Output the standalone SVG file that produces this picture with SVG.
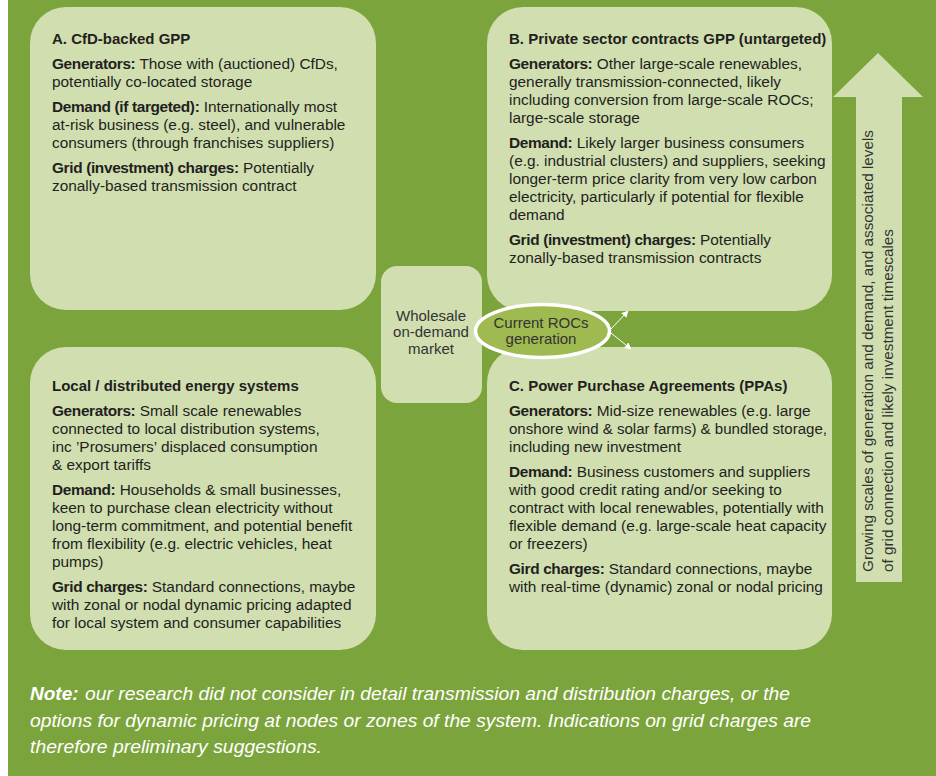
<svg xmlns="http://www.w3.org/2000/svg" width="936" height="776" viewBox="0 0 936 776">
<defs>
<style>
.bg{fill:#7ca43c}
.box{fill:#d1deb0}
.t{font-family:"Liberation Sans",Arial,sans-serif;font-size:15.4px;fill:#231f20}
.h{font-family:"Liberation Sans",Arial,sans-serif;font-size:15px;font-weight:bold;fill:#231f20}
.b{font-weight:bold;letter-spacing:-0.35px}
.c{font-family:"Liberation Sans",Arial,sans-serif;font-size:15px;fill:#333;text-anchor:middle}
.v{font-family:"Liberation Sans",Arial,sans-serif;font-size:15px;fill:#333}
.note{font-family:"Liberation Sans",Arial,sans-serif;font-size:19px;font-style:italic;fill:#ffffff}
.conn{stroke:#ffffff;stroke-width:1;fill:none}
</style>
<marker id="ah" viewBox="0 0 10 10" refX="9" refY="5" markerWidth="7" markerHeight="7" orient="auto" markerUnits="userSpaceOnUse">
<path d="M0,0 L10,5 L0,10 z" fill="#ffffff"/>
</marker>
</defs>
<rect x="0" y="0" width="936" height="776" fill="#ffffff"/>
<rect class="bg" x="8" y="0" width="928" height="776"/>

<g id="arrow-scale">
<polygon points="878,53 923,97 902,97 902,582 856,582 856,97 833,97" fill="#d1deb0"/>
<text class="v" transform="translate(873,572) rotate(-90)" textLength="442" lengthAdjust="spacingAndGlyphs">Growing scales of generation and demand, and associated levels</text>
<text class="v" transform="translate(893,572) rotate(-90)" textLength="343" lengthAdjust="spacingAndGlyphs">of grid connection and likely investment timescales</text>
</g>

<g id="node-a">
<rect class="box" x="30" y="7" width="346" height="303" rx="36"/>
<text class="h" x="52" y="44">A. CfD-backed GPP</text>
<text class="t" x="52" y="69"><tspan class="b">Generators:</tspan> Those with (auctioned) CfDs,</text>
<text class="t" x="52" y="87">potentially co-located storage</text>
<text class="t" x="52" y="112"><tspan class="b">Demand (if targeted):</tspan> Internationally most</text>
<text class="t" x="52" y="130">at-risk business (e.g. steel), and vulnerable</text>
<text class="t" x="52" y="148">consumers (through franchises suppliers)</text>
<text class="t" x="52" y="173"><tspan class="b">Grid (investment) charges:</tspan> Potentially</text>
<text class="t" x="52" y="191">zonally-based transmission contract</text>
</g>

<g id="node-b">
<rect class="box" x="487" y="7" width="345" height="304" rx="36"/>
<text class="h" x="509" y="44">B. Private sector contracts GPP (untargeted)</text>
<text class="t" x="509" y="69"><tspan class="b">Generators:</tspan> Other large-scale renewables,</text>
<text class="t" x="509" y="87">generally transmission-connected, likely</text>
<text class="t" x="509" y="105">including conversion from large-scale ROCs;</text>
<text class="t" x="509" y="123">large-scale storage</text>
<text class="t" x="509" y="148"><tspan class="b">Demand:</tspan> Likely larger business consumers</text>
<text class="t" x="509" y="166">(e.g. industrial clusters) and suppliers, seeking</text>
<text class="t" x="509" y="184">longer-term price clarity from very low carbon</text>
<text class="t" x="509" y="202">electricity, particularly if potential for flexible</text>
<text class="t" x="509" y="220">demand</text>
<text class="t" x="509" y="245"><tspan class="b">Grid (investment) charges:</tspan> Potentially</text>
<text class="t" x="509" y="263">zonally-based transmission contracts</text>
</g>

<g id="node-local">
<rect class="box" x="30" y="347" width="346" height="303" rx="36"/>
<text class="h" x="52" y="391">Local / distributed energy systems</text>
<text class="t" x="52" y="416"><tspan class="b">Generators:</tspan> Small scale renewables</text>
<text class="t" x="52" y="434">connected to local distribution systems,</text>
<text class="t" x="52" y="452">inc ’Prosumers’ displaced consumption</text>
<text class="t" x="52" y="470">&amp; export tariffs</text>
<text class="t" x="52" y="495"><tspan class="b">Demand:</tspan> Households &amp; small businesses,</text>
<text class="t" x="52" y="513">keen to purchase clean electricity without</text>
<text class="t" x="52" y="531">long-term commitment, and potential benefit</text>
<text class="t" x="52" y="549">from flexibility (e.g. electric vehicles, heat</text>
<text class="t" x="52" y="567">pumps)</text>
<text class="t" x="52" y="592"><tspan class="b">Grid charges:</tspan> Standard connections, maybe</text>
<text class="t" x="52" y="610">with zonal or nodal dynamic pricing adapted</text>
<text class="t" x="52" y="628">for local system and consumer capabilities</text>
</g>

<g id="node-c">
<rect class="box" x="487" y="347" width="345" height="303" rx="36"/>
<text class="h" x="509" y="391">C. Power Purchase Agreements (PPAs)</text>
<text class="t" x="509" y="416"><tspan class="b">Generators:</tspan> Mid-size renewables (e.g. large</text>
<text class="t" x="509" y="434" textLength="318" lengthAdjust="spacingAndGlyphs">onshore wind &amp; solar farms) &amp; bundled storage,</text>
<text class="t" x="509" y="452">including new investment</text>
<text class="t" x="509" y="477"><tspan class="b">Demand:</tspan> Business customers and suppliers</text>
<text class="t" x="509" y="495">with good credit rating and/or seeking to</text>
<text class="t" x="509" y="513">contract with local renewables, potentially with</text>
<text class="t" x="509" y="531">flexible demand (e.g. large-scale heat capacity</text>
<text class="t" x="509" y="549">or freezers)</text>
<text class="t" x="509" y="574"><tspan class="b">Gird charges:</tspan> Standard connections, maybe</text>
<text class="t" x="509" y="592">with real-time (dynamic) zonal or nodal pricing</text>
</g>

<g id="node-wholesale">
<rect class="box" x="381" y="266" width="101" height="137" rx="16"/>
<text class="c" x="431" y="321">Wholesale</text>
<text class="c" x="431" y="337">on-demand</text>
<text class="c" x="431" y="354">market</text>
</g>

<g id="node-rocs">
<ellipse cx="542.5" cy="331" rx="67" ry="26.5" fill="#9fba50" stroke="#ffffff" stroke-width="3.5"/>
<text class="c" x="541" y="328">Current ROCs</text>
<text class="c" x="541" y="344">generation</text>
</g>

<g id="connectors">
<line class="conn" x1="611" y1="329" x2="628" y2="311" marker-end="url(#ah)"/>
<line class="conn" x1="611" y1="333" x2="631" y2="349" marker-end="url(#ah)"/>
</g>

<g id="note">
<text class="note" x="30" y="700" font-weight="bold">Note:</text>
<text class="note" x="85" y="700" textLength="705" lengthAdjust="spacingAndGlyphs">our research did not consider in detail transmission and distribution charges, or the</text>
<text class="note" x="30" y="726.5" textLength="781" lengthAdjust="spacingAndGlyphs">options for dynamic pricing at nodes or zones of the system.  Indications on grid charges are</text>
<text class="note" x="30" y="753" textLength="292" lengthAdjust="spacingAndGlyphs">therefore preliminary suggestions.</text>
</g>
</svg>
